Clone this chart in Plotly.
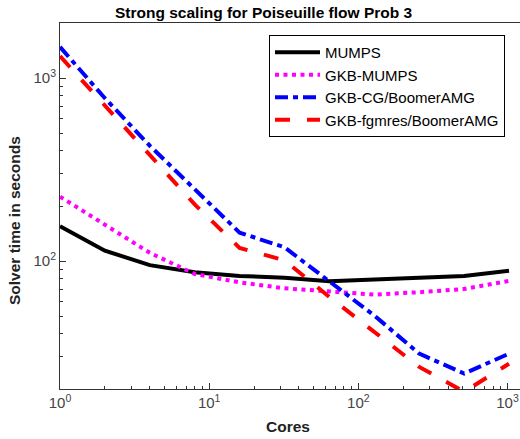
import plotly.graph_objects as go
import math

cores = [1, 2, 4, 8, 16, 32, 64, 128, 256, 512, 1024]
mumps = [155, 114, 95, 87, 83, 81, 77.5, 79, 81, 83, 88.5]
gkb_mumps = [225, 157, 111, 85, 76.5, 71, 68, 65.6, 67.6, 70.4, 78]
gkb_cg = [1480, 776, 427, 246, 143, 119, 78, 50.4, 31.2, 24.3, 31.2]
gkb_fgmres = [1318, 711, 385, 204, 118, 101, 63.7, 41.1, 26.4, 19.3, 27.5]

x_ticks = [1, 10, 100, 1000]
x_ticktext = ["10<sup>0</sup>", "10<sup>1</sup>", "10<sup>2</sup>", "10<sup>3</sup>"]
y_ticks = [100, 1000]
y_ticktext = ["10<sup>2</sup>", "10<sup>3</sup>"]

x_minor = [m * d for d in [1, 10, 100, 1000] for m in range(2, 10)]
y_minor = [m * d for d in [10, 100, 1000] for m in range(2, 10)]

fig = go.Figure()
fig.add_trace(go.Scatter(x=cores, y=mumps, mode="lines", name="MUMPS",
                         line=dict(color="black", width=4)))
fig.add_trace(go.Scatter(x=cores, y=gkb_mumps, mode="lines", name="GKB-MUMPS",
                         line=dict(color="#ff00ff", width=4, dash="4px,4.5px")))
fig.add_trace(go.Scatter(x=cores, y=gkb_cg, mode="lines", name="GKB-CG/BoomerAMG",
                         line=dict(color="#0000ff", width=4, dash="13px,5px,5px,5px")))
fig.add_trace(go.Scatter(x=cores, y=gkb_fgmres, mode="lines", name="GKB-fgmres/BoomerAMG",
                         line=dict(color="#ff0000", width=4, dash="15px,17px")))

axis_color = "#333333"
FONT = "Liberation Sans, Arial, sans-serif"
tick_font = dict(family=FONT, size=15, color="#444444")

fig.update_xaxes(type="log", range=[0, 3.084], showline=True, linecolor=axis_color,
                 linewidth=1, mirror=True, ticks="inside", ticklen=6, tickcolor=axis_color,
                 tickvals=x_ticks, ticktext=x_ticktext, showgrid=False, zeroline=False,
                 tickfont=tick_font,
                 minor=dict(tickvals=x_minor, ticks="inside", ticklen=3, tickcolor=axis_color,
                            showgrid=False))
fig.update_yaxes(type="log", range=[math.log10(20), math.log10(2000)], showline=True,
                 linecolor=axis_color, linewidth=1, mirror=False, ticks="inside", ticklen=6,
                 tickcolor=axis_color, tickvals=y_ticks, ticktext=y_ticktext,
                 showgrid=False, zeroline=False, tickfont=tick_font,
                 minor=dict(tickvals=y_minor, ticks="inside", ticklen=3, tickcolor=axis_color,
                            showgrid=False))

W_plot = 460.0
H_plot = 366.0
def px(xp):
    return (xp - 60) / W_plot
def py(yp):
    return (389 - yp) / H_plot

fig.update_layout(
    width=520, height=439,
    margin=dict(l=60, r=0, t=23, b=50),
    paper_bgcolor="white", plot_bgcolor="white",
    font=dict(family=FONT, size=15, color="black"),
    showlegend=True,
    legend=dict(x=px(269), y=py(35), xanchor="left", yanchor="top",
                bordercolor="black", borderwidth=1, bgcolor="white",
                font=dict(family=FONT, size=15, color="black"), tracegroupgap=0,
                itemwidth=45),
)

fig.add_annotation(text="<b>Strong scaling for Poiseuille flow Prob 3</b>", x=px(264), y=py(12),
                   xref="paper", yref="paper", showarrow=False, xanchor="center", yanchor="middle",
                   font=dict(family=FONT, size=15.5, color="black"))
fig.add_annotation(text="<b>Cores</b>", x=px(288), y=py(427), xref="paper", yref="paper",
                   showarrow=False, xanchor="center", yanchor="middle",
                   font=dict(family=FONT, size=15.5, color="#222222"))
fig.add_annotation(text="<b>Solver time in seconds</b>", x=px(15), y=py(221), xref="paper",
                   yref="paper", showarrow=False, textangle=-90, xanchor="center",
                   yanchor="middle", font=dict(family=FONT, size=15.5, color="#222222"))

fig.write_html("out.html", config={"displayModeBar": False},
               post_script="document.body.style.margin='0';")
